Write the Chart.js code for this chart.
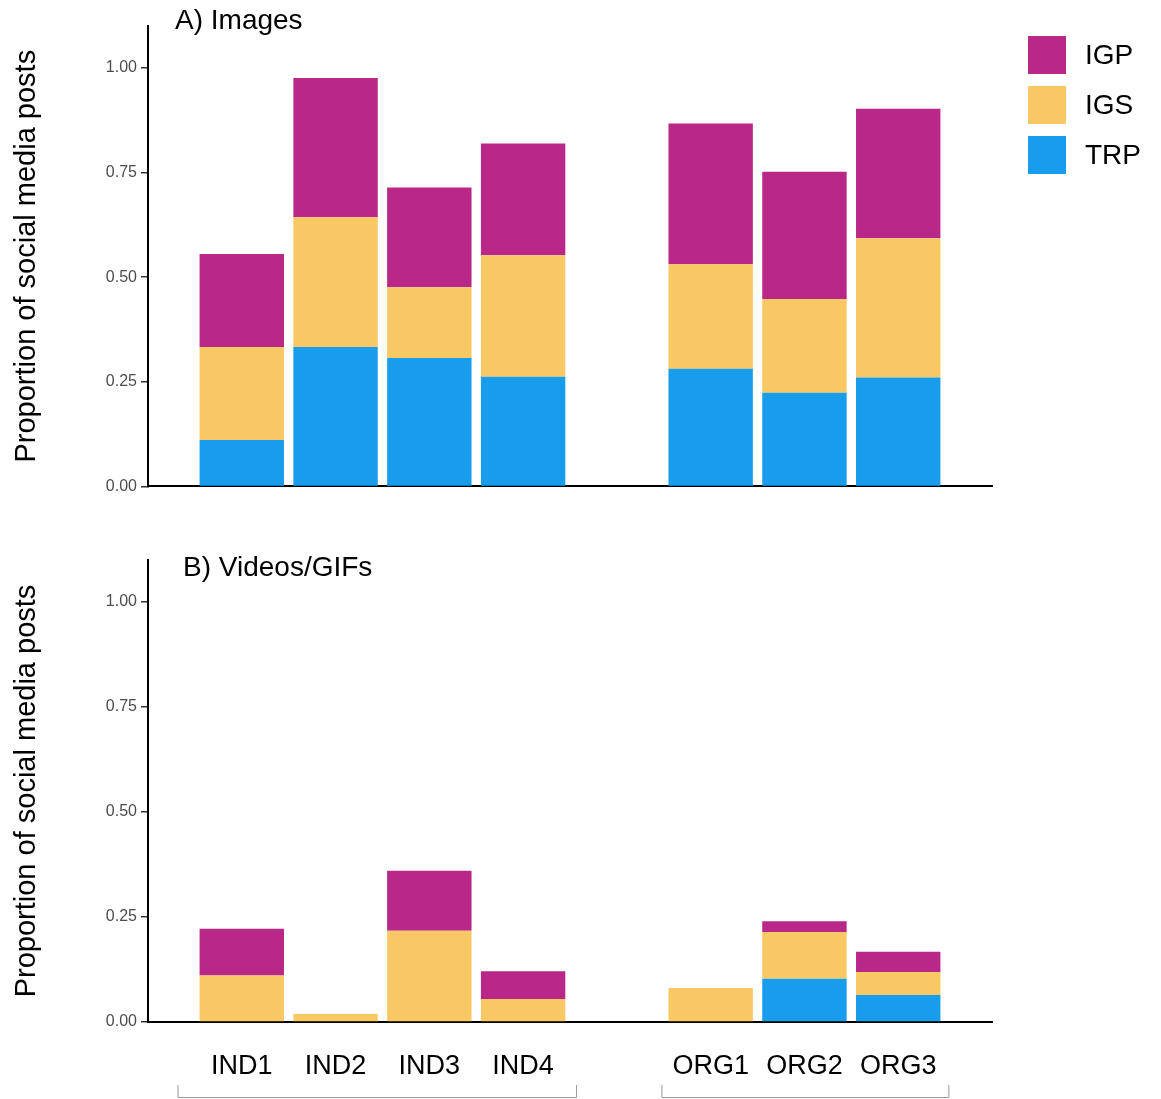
<!DOCTYPE html>
<html>
<head>
<meta charset="utf-8">
<script src="https://cdn.jsdelivr.net/npm/chart.js@4"></script>
<style>
  body { margin: 0; background: #fff; width: 1161px; height: 1099px; position: relative; overflow: hidden; font-family: "Liberation Sans", Arial, sans-serif; }
  canvas { position: absolute; left: 0; }
  #chartA { top: 0; }
  #chartB { top: 520px; }
  .titulo { position: absolute; font-size: 28px; line-height: 28px; color: #000; white-space: nowrap; }
  #leyenda { position: absolute; left: 1028px; top: 36px; }
  .item { display: flex; align-items: center; height: 38px; margin-bottom: 12px; }
  .caja { width: 38px; height: 38px; margin-right: 19px; }
  .item span { font-size: 28px; color: #000; }
</style>
</head>
<body>
<canvas id="chartA" width="1161" height="500"></canvas>
<canvas id="chartB" width="1161" height="579"></canvas>
<div class="titulo" style="left:175px; top:6px;">A) Images</div>
<div class="titulo" style="left:183px; top:553px;">B) Videos/GIFs</div>
<div id="leyenda"></div>
<script>
const grupoIND = ['IND1', 'IND2', 'IND3', 'IND4'];
const grupoORG = ['ORG1', 'ORG2', 'ORG3'];
const series = ['TRP', 'IGS', 'IGP'];
const colores = { TRP: '#189dec', IGS: '#f7c864', IGP: '#b92888' };
const ticksY = [0, 0.25, 0.5, 0.75, 1.0];

// A) Images (IND1..IND4, ORG1..ORG3)
const imgTRP = [0.111, 0.333, 0.307, 0.262, 0.281, 0.224, 0.260];
const imgIGS = [0.222, 0.310, 0.169, 0.290, 0.250, 0.224, 0.333];
const imgIGP = [0.222, 0.333, 0.238, 0.267, 0.336, 0.304, 0.309];

// B) Videos/GIFs
const vidTRP = [0, 0, 0, 0, 0, 0.103, 0.064];
const vidIGS = [0.111, 0.019, 0.217, 0.055, 0.081, 0.111, 0.055];
const vidIGP = [0.111, 0, 0.143, 0.066, 0, 0.026, 0.048];

// empty slots at both ends and between the groups
const etiquetas = ['', ...grupoIND, '', ...grupoORG, ''];
const rellenar = (arr) => [null, ...arr.slice(0, 4), null, ...arr.slice(4), null];

const leyenda = document.querySelector('#leyenda');
[...series].reverse().forEach(s => {
    const div = document.createElement('div');
    div.className = 'item';
    div.innerHTML = `<div class="caja" style="background:${colores[s]}"></div><span>${s}</span>`;
    leyenda.appendChild(div);
});

const corchetes = {
    id: 'corchetes',
    afterDraw(chart) {
        const x = chart.scales.x;
        const ctx = chart.ctx;
        const yb = chart.height - 1.5;
        const yt = chart.height - 14;
        ctx.save();
        ctx.strokeStyle = '#999';
        ctx.lineWidth = 1;
        [[0.32, 4.57], [5.48, 8.54]].forEach(([a, b]) => {
            const x1 = x.getPixelForValue(a);
            const x2 = x.getPixelForValue(b);
            ctx.beginPath();
            ctx.moveTo(x1, yt); ctx.lineTo(x1, yb); ctx.lineTo(x2, yb); ctx.lineTo(x2, yt);
            ctx.stroke();
        });
        ctx.restore();
    }
};

function crearGrafico(id, datos, conEtiquetas, padTop) {
    const ctx = document.querySelector(id).getContext('2d');
    return new Chart(ctx, {
        type: 'bar',
        data: {
            labels: etiquetas,
            datasets: series.map((s, i) => ({
                label: s,
                data: rellenar(datos[i]),
                backgroundColor: colores[s],
                borderWidth: 0,
                categoryPercentage: 0.9,
                barPercentage: 1
            }))
        },
        options: {
            responsive: false,
            animation: false,
            layout: { padding: { top: padTop, right: 169, left: 0, bottom: 0 } },
            plugins: { legend: { display: false }, tooltip: { enabled: false } },
            scales: {
                x: {
                    stacked: true,
                    offset: false,
                    grid: { display: false },
                    border: { display: true, color: '#000', width: 2 },
                    ticks: {
                        display: conEtiquetas,
                        autoSkip: false,
                        maxRotation: 0,
                        padding: 20,
                        color: '#000',
                        font: { family: 'Liberation Sans', size: 27 }
                    },
                    afterFit: (scale) => { scale.height = conEtiquetas ? 77 : 11; }
                },
                y: {
                    stacked: true,
                    min: 0,
                    max: 1.1,
                    afterBuildTicks: (scale) => { scale.ticks = ticksY.map(v => ({ value: v })); },
                    afterFit: (scale) => { scale.width = 148; },
                    grid: { display: true, drawOnChartArea: false, drawTicks: true, tickLength: 7, color: '#333', lineWidth: 1.5 },
                    border: { display: true, color: '#000', width: 2 },
                    ticks: {
                        padding: 4,
                        color: '#4d4d4d',
                        font: { family: 'Liberation Sans', size: 16 },
                        callback: (v) => Number(v).toFixed(2)
                    },
                    title: {
                        display: true,
                        text: 'Proportion of social media posts',
                        color: '#000',
                        font: { family: 'Liberation Sans', size: 29 },
                        padding: { top: 10, bottom: 0 }
                    }
                }
            }
        },
        plugins: conEtiquetas ? [corchetes] : []
    });
}

crearGrafico('#chartA', [imgTRP, imgIGS, imgIGP], false, 26);
crearGrafico('#chartB', [vidTRP, vidIGS, vidIGP], true, 40);
</script>
</body>
</html>
